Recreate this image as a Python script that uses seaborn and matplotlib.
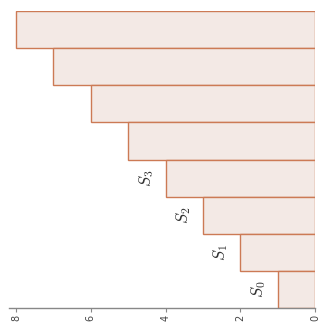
import matplotlib
matplotlib.use("Agg")
import matplotlib.pyplot as plt
import seaborn as sns
import pandas as pd

categories = ["b1", "b2", "b3", "b4", "b5", "b6", "b7", "b8"]
values = [1, 2, 3, 4, 5, 6, 7, 8]
labels = ["$S_0$", "$S_1$", "$S_2$", "$S_3$"]
ticks = [0, 2, 4, 6, 8]

sns.set_style("white")
plt.rcParams["mathtext.fontset"] = "cm"

df = pd.DataFrame({"cat": categories, "val": values})

fig = plt.figure(figsize=(3.2, 3.27), dpi=100)
ax = fig.add_axes([9 / 320, (327 - 308) / 327, (315 - 9) / 320, (308 - 11) / 327])

sns.barplot(data=df, y="cat", x="val", order=categories[::-1], orient="h",
            color="#f3e9e5", edgecolor="#cc7a55", linewidth=1.0, width=1.0,
            saturation=1, ax=ax)

ax.set_xlim(8.19, 0)
ax.set_ylim(len(categories) - 0.5, -0.5)
ax.set_xticks(ticks)
ax.set_xticklabels([str(t) for t in ticks], rotation=90, fontsize=7, color="#444444")
ax.set_yticks([])
ax.set_xlabel("")
ax.set_ylabel("")
ax.tick_params(axis="x", length=3, width=0.8, color="#888888", pad=2, bottom=True)
for s in ["top", "left", "right"]:
    ax.spines[s].set_visible(False)
ax.spines["bottom"].set_color("#888888")
ax.spines["bottom"].set_linewidth(1.0)

order = categories[::-1]
for i, lab in enumerate(labels):
    ypos = order.index(categories[i])
    ax.text(values[i] + 0.52, ypos, lab, rotation=90, ha="center", va="center",
            fontsize=12, color="#333333")

fig.savefig("out.png", dpi=100)
